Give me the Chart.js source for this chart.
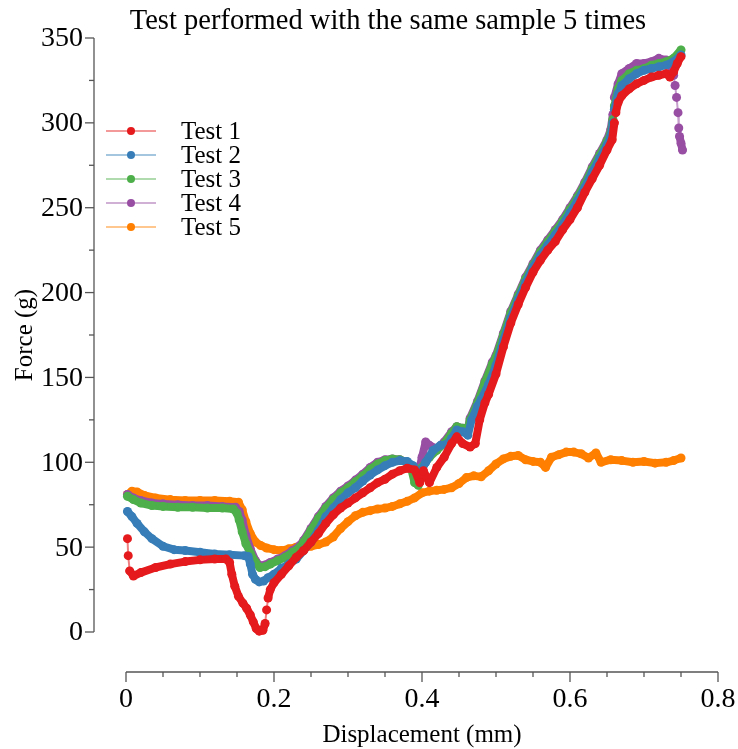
<!DOCTYPE html>
<html lang="en">
<head>
<meta charset="UTF-8">
<title>Test performed with the same sample 5 times</title>
<script src="https://cdn.jsdelivr.net/npm/chart.js"></script>
<style>
  html, body { margin: 0; padding: 0; background: #fff; overflow: hidden; }
  #wrap { width: 738px; height: 749px; }
</style>
</head>
<body>
<div id="wrap"><canvas id="forceChart" width="738" height="749"></canvas></div>
<script>
// displacement (mm), force (g) pairs
const test1 = [
  [0.002, 55], [0.003, 45], [0.005, 36], [0.01, 33], [0.02, 35], [0.04, 38], [0.06, 40], [0.08, 41.5],
  [0.1, 42.5], [0.12, 43], [0.135, 43], [0.14, 41], [0.143, 34], [0.147, 27], [0.152, 21], [0.158, 17],
  [0.163, 14], [0.168, 10], [0.172, 6], [0.176, 2], [0.18, 0.5], [0.185, 1], [0.188, 5], [0.19, 13],
  [0.192, 20], [0.195, 25], [0.2, 29], [0.21, 34], [0.22, 39], [0.23, 44], [0.24, 48], [0.25, 53],
  [0.26, 58], [0.27, 64], [0.28, 69], [0.29, 73], [0.3, 76], [0.31, 79], [0.32, 82], [0.33, 85],
  [0.34, 88], [0.35, 90], [0.36, 93], [0.37, 95], [0.38, 96.5], [0.39, 95.5], [0.397, 88], [0.402, 95],
  [0.41, 88], [0.42, 97], [0.43, 103], [0.44, 111], [0.447, 115], [0.455, 111], [0.465, 109], [0.472, 111],
  [0.478, 125], [0.485, 135], [0.49, 140], [0.5, 152], [0.51, 168], [0.52, 182], [0.53, 193], [0.54, 203],
  [0.55, 212], [0.56, 219], [0.57, 225], [0.58, 230], [0.59, 237], [0.6, 243], [0.61, 250], [0.62, 259],
  [0.63, 267], [0.64, 275], [0.65, 284], [0.657, 290], [0.66, 300], [0.662, 306], [0.665, 312], [0.67, 316],
  [0.68, 320], [0.69, 323], [0.7, 325], [0.71, 327], [0.72, 328], [0.73, 329], [0.735, 327], [0.74, 330],
  [0.745, 335], [0.75, 339]
];
const test2 = [
  [0.002, 71], [0.008, 68], [0.015, 64], [0.025, 59], [0.035, 55], [0.05, 50.5], [0.065, 48.5], [0.08, 48],
  [0.1, 47], [0.12, 46], [0.14, 45.5], [0.16, 45], [0.165, 44.5], [0.168, 40], [0.171, 34], [0.175, 31],
  [0.18, 29.5], [0.186, 30], [0.192, 32], [0.2, 34], [0.21, 37.5], [0.22, 40], [0.23, 43], [0.24, 48],
  [0.25, 53], [0.26, 60], [0.27, 68], [0.28, 73], [0.29, 78], [0.3, 82], [0.31, 85], [0.32, 89],
  [0.33, 92.5], [0.34, 95.5], [0.35, 98], [0.36, 100], [0.37, 101], [0.38, 100.5], [0.388, 98], [0.395, 93],
  [0.4, 96], [0.405, 100], [0.415, 107], [0.425, 110], [0.435, 111], [0.44, 114], [0.447, 119], [0.455, 118],
  [0.462, 116], [0.467, 125], [0.475, 133], [0.48, 137], [0.49, 146], [0.5, 157], [0.51, 172], [0.52, 185],
  [0.53, 196], [0.54, 206], [0.55, 215], [0.56, 222], [0.57, 228], [0.58, 234], [0.59, 240], [0.6, 247],
  [0.61, 254], [0.62, 262], [0.63, 271], [0.64, 279], [0.65, 287], [0.655, 292], [0.658, 300], [0.66, 308],
  [0.665, 317], [0.67, 322], [0.68, 326], [0.69, 329], [0.7, 331], [0.71, 332], [0.72, 333], [0.73, 334],
  [0.74, 336], [0.75, 340]
];
const test3 = [
  [0.002, 80], [0.01, 78], [0.02, 76], [0.035, 74.5], [0.05, 74], [0.07, 73.5], [0.09, 73.5], [0.11, 73],
  [0.13, 73], [0.145, 72.5], [0.15, 70], [0.153, 66], [0.157, 59], [0.162, 52], [0.168, 46.5], [0.175, 41],
  [0.181, 38], [0.188, 38.5], [0.195, 40], [0.205, 42], [0.215, 44], [0.225, 47], [0.235, 50], [0.24, 53],
  [0.25, 60], [0.26, 67], [0.27, 73], [0.28, 78], [0.29, 82], [0.3, 85], [0.31, 88.5], [0.32, 92],
  [0.33, 96], [0.34, 99], [0.35, 101], [0.36, 102], [0.37, 101.5], [0.38, 100], [0.385, 97], [0.39, 88],
  [0.395, 86.5], [0.4, 97], [0.41, 103], [0.42, 107], [0.43, 111], [0.44, 117], [0.447, 121], [0.455, 120],
  [0.462, 120], [0.465, 125], [0.475, 135], [0.485, 147], [0.495, 158], [0.5, 162], [0.51, 175], [0.52, 188],
  [0.53, 198], [0.54, 208], [0.55, 216], [0.56, 224], [0.57, 230], [0.58, 236], [0.59, 242], [0.6, 249],
  [0.61, 256], [0.62, 264], [0.63, 273], [0.64, 281], [0.65, 289], [0.655, 294], [0.658, 302], [0.66, 310],
  [0.665, 320], [0.67, 325], [0.68, 329], [0.69, 331], [0.7, 332], [0.71, 334], [0.72, 335], [0.73, 336],
  [0.74, 338], [0.75, 343]
];
const test4 = [
  [0.002, 81], [0.01, 79], [0.02, 77.5], [0.035, 76], [0.05, 75.5], [0.07, 75], [0.09, 74.5], [0.11, 74.5],
  [0.13, 74], [0.148, 73.5], [0.153, 71], [0.157, 66], [0.162, 57], [0.168, 49], [0.175, 42], [0.181, 39],
  [0.188, 39.5], [0.195, 41], [0.205, 43], [0.215, 45], [0.225, 48], [0.235, 51], [0.24, 54], [0.25, 61],
  [0.26, 68], [0.27, 74], [0.28, 79], [0.29, 83], [0.3, 86], [0.31, 89.5], [0.32, 93], [0.33, 97],
  [0.34, 100], [0.35, 101.5], [0.36, 102], [0.37, 101.5], [0.38, 100], [0.39, 96], [0.395, 93], [0.4, 103],
  [0.405, 112], [0.41, 110], [0.42, 108], [0.43, 112], [0.44, 118], [0.447, 121], [0.455, 120], [0.462, 120],
  [0.465, 126], [0.475, 136], [0.485, 148], [0.495, 159], [0.5, 163], [0.51, 176], [0.52, 189], [0.53, 199],
  [0.54, 209], [0.55, 217], [0.56, 225], [0.57, 231], [0.58, 237], [0.59, 243], [0.6, 250], [0.61, 257],
  [0.62, 265], [0.63, 274], [0.64, 282], [0.65, 290], [0.655, 296], [0.658, 305], [0.66, 315], [0.665, 323],
  [0.67, 329], [0.68, 332], [0.69, 335], [0.7, 335], [0.71, 336], [0.72, 338], [0.73, 337], [0.735, 335],
  [0.74, 328], [0.742, 322], [0.744, 315], [0.746, 306], [0.747, 297], [0.748, 292], [0.75, 288], [0.752, 284]
];
const test5 = [
  [0.002, 81], [0.008, 83], [0.015, 82.5], [0.025, 80.5], [0.04, 79], [0.06, 78], [0.08, 77.5], [0.1, 77.5],
  [0.12, 77.5], [0.14, 77], [0.152, 76.5], [0.157, 72], [0.162, 65], [0.168, 58], [0.175, 53], [0.182, 51],
  [0.19, 49.5], [0.2, 48.5], [0.21, 48], [0.22, 49], [0.23, 50], [0.24, 50], [0.25, 50.5], [0.26, 51.5],
  [0.27, 53], [0.28, 56], [0.29, 61], [0.3, 65], [0.31, 68.5], [0.32, 70.5], [0.33, 71.5], [0.34, 72.5],
  [0.35, 73], [0.36, 74], [0.37, 75.5], [0.38, 77], [0.39, 79], [0.4, 82], [0.41, 83], [0.42, 83.5],
  [0.43, 84], [0.44, 85], [0.45, 87.5], [0.46, 91], [0.47, 92], [0.48, 91.5], [0.49, 95], [0.5, 99],
  [0.51, 102], [0.52, 103.5], [0.53, 104], [0.54, 101.5], [0.55, 100.5], [0.56, 100], [0.567, 97], [0.575, 103],
  [0.585, 104.5], [0.595, 106], [0.605, 106], [0.615, 105], [0.625, 102.5], [0.635, 105.5], [0.642, 100], [0.655, 101.5],
  [0.67, 101], [0.685, 100], [0.7, 100.5], [0.715, 99.5], [0.73, 100], [0.74, 101], [0.75, 102.5]
];

const seriesNames = ['Test 1', 'Test 2', 'Test 3', 'Test 4', 'Test 5'];
const seriesData = [test1, test2, test3, test4, test5];
const seriesColors = ['#e41a1c', '#377eb8', '#4daf4a', '#984ea3', '#ff7f00'];

const yMajor = [0, 50, 100, 150, 200, 250, 300, 350];
const yMinor = [25, 75, 125, 175, 225, 275, 325];
const xMajor = [0, 0.2, 0.4, 0.6, 0.8];
const xMinor = [0.05, 0.1, 0.15, 0.25, 0.3, 0.35, 0.45, 0.5, 0.55, 0.65, 0.7, 0.75];

const serif = "'Liberation Serif', 'Times New Roman', serif";

function fade(hex, a) {
  const n = parseInt(hex.slice(1), 16);
  return `rgba(${n >> 16}, ${(n >> 8) & 255}, ${n & 255}, ${a})`;
}

// near-vertical jumps between samples show as a thin line, dense runs as a thick band of dots
function isJump(c) {
  return Math.abs(c.p1.x - c.p0.x) < 2 && Math.abs(c.p1.y - c.p0.y) > 8;
}

const datasets = seriesData.map((pts, i) => ({
  label: seriesNames[i],
  data: pts.map(([x, y]) => ({ x, y })),
  borderColor: seriesColors[i],
  backgroundColor: seriesColors[i],
  borderWidth: 8,
  borderCapStyle: 'round',
  borderJoinStyle: 'round',
  pointRadius: 4.5,
  pointBorderWidth: 0,
  pointBackgroundColor: seriesColors[i],
  tension: 0,
  segment: {
    borderWidth: c => isJump(c) ? 2 : 8,
    borderColor: c => isJump(c) ? fade(seriesColors[i], 0.55) : seriesColors[i]
  }
}));

const axesPlugin = {
  id: 'axesPlugin',
  afterDraw(chart) {
    const ctx = chart.ctx;
    const xs = chart.scales.x, ys = chart.scales.y;
    const area = chart.chartArea;
    ctx.save();
    ctx.strokeStyle = '#555';
    ctx.lineWidth = 1.3;
    const seg = (x1, y1, x2, y2) => { ctx.beginPath(); ctx.moveTo(x1, y1); ctx.lineTo(x2, y2); ctx.stroke(); };

    // y axis
    const ax = area.left;
    seg(ax, ys.getPixelForValue(0), ax, ys.getPixelForValue(350));
    ctx.fillStyle = '#000';
    ctx.font = '28px ' + serif;
    ctx.textAlign = 'right';
    ctx.textBaseline = 'middle';
    yMajor.forEach(v => {
      const p = ys.getPixelForValue(v);
      seg(ax - 9, p, ax, p);
      ctx.fillText(String(v), ax - 11, p + 1);
    });
    yMinor.forEach(v => { const p = ys.getPixelForValue(v); seg(ax - 5, p, ax, p); });

    // x axis
    const ay = area.bottom;
    seg(xs.getPixelForValue(0), ay, xs.getPixelForValue(0.8), ay);
    ctx.textAlign = 'center';
    ctx.textBaseline = 'top';
    xMajor.forEach(v => {
      const p = xs.getPixelForValue(v);
      seg(p, ay, p, ay + 10);
      ctx.fillText(String(v), p, ay + 14);
    });
    xMinor.forEach(v => { const p = xs.getPixelForValue(v); seg(p, ay, p, ay + 5); });

    // axis titles
    ctx.font = '25px ' + serif;
    ctx.textBaseline = 'middle';
    ctx.fillText('Displacement (mm)', (xs.getPixelForValue(0) + xs.getPixelForValue(0.8)) / 2, 735);
    ctx.save();
    ctx.translate(25, (ys.getPixelForValue(0) + ys.getPixelForValue(350)) / 2);
    ctx.rotate(-Math.PI / 2);
    ctx.fillText('Force (g)', 0, 0);
    ctx.restore();

    // title
    ctx.font = '28.5px ' + serif;
    ctx.textBaseline = 'alphabetic';
    ctx.fillText('Test performed with the same sample 5 times', 388, 29);

    // legend
    ctx.font = '25px ' + serif;
    ctx.textAlign = 'left';
    ctx.textBaseline = 'middle';
    seriesNames.forEach((name, i) => {
      const y = 131 + i * 24;
      ctx.strokeStyle = fade(seriesColors[i], 0.6);
      ctx.lineWidth = 1.5;
      seg(106, y, 156, y);
      ctx.fillStyle = seriesColors[i];
      ctx.beginPath(); ctx.arc(131, y, 4, 0, Math.PI * 2); ctx.fill();
      ctx.fillStyle = '#000';
      ctx.fillText(name, 181, y + 1);
    });
    ctx.restore();
  }
};

new Chart(document.getElementById('forceChart'), {
  type: 'line',
  data: { datasets },
  options: {
    responsive: false,
    devicePixelRatio: 1,
    animation: false,
    layout: { padding: { left: 94, right: 20, top: 38, bottom: 77 } },
    scales: {
      x: { type: 'linear', min: -0.04324, max: 0.8, display: false },
      y: { type: 'linear', min: -23.57, max: 350, display: false }
    },
    plugins: {
      legend: { display: false },
      tooltip: { enabled: false },
      title: { display: false }
    }
  },
  plugins: [axesPlugin]
});
</script>
</body>
</html>
